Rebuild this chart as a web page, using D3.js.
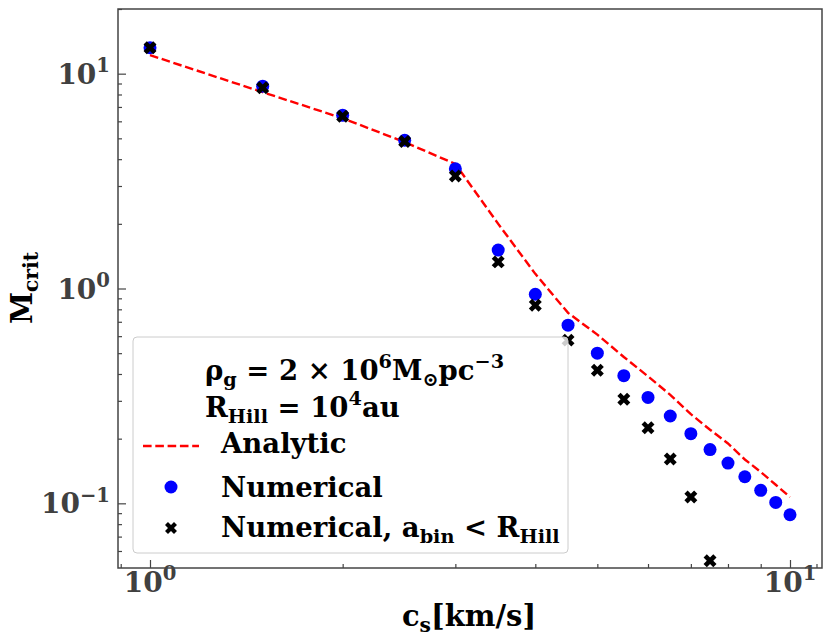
<!DOCTYPE html>
<html lang="en">
  <head>
    <meta charset="UTF-8" />
    <script src="https://d3js.org/d3.v7.min.js"></script>
    <title>M_crit vs c_s</title>
    <style>
      body { margin: 0; background: #fff; }
      text { font-family: "DejaVu Serif", serif; font-weight: bold; }
    </style>
  </head>
  <body>
    <div id="chart-container"></div>

    <script>
      // sound speed c_s [km/s]
      const cs = [1.0, 1.5, 2.0, 2.5, 3.0, 3.5, 4.0, 4.5, 5.0, 5.5, 6.0, 6.5, 7.0, 7.5, 8.0, 8.5, 9.0, 9.5, 10.0];
      // analytic curve (red dashed)
      const analytic = [12.2, 8.2, 6.2, 4.8, 3.8, 2.0, 1.17, 0.77, 0.61, 0.48, 0.39, 0.32, 0.26, 0.22, 0.19, 0.16, 0.14, 0.122, 0.107];
      // numerical (blue circles)
      const numerical = [13.2, 8.75, 6.4, 4.9, 3.61, 1.51, 0.94, 0.675, 0.5, 0.393, 0.311, 0.255, 0.211, 0.178, 0.154, 0.133, 0.115, 0.101, 0.0885];
      // numerical with a_bin < R_Hill (black crosses)
      const csHill = [1.0, 1.5, 2.0, 2.5, 3.0, 3.5, 4.0, 4.5, 5.0, 5.5, 6.0, 6.5, 7.0, 7.5];
      const numericalHill = [13.2, 8.6, 6.33, 4.83, 3.34, 1.33, 0.835, 0.575, 0.416, 0.305, 0.225, 0.161, 0.107, 0.054];

      const xMajor = [1, 10];
      const xMinor = [0.9, 2, 3, 4, 5, 6, 7, 8, 9, 11];
      const yMajor = [0.1, 1, 10];
      const yMinor = [0.06, 0.07, 0.08, 0.09, 0.2, 0.3, 0.4, 0.5, 0.6, 0.7, 0.8, 0.9, 2, 3, 4, 5, 6, 7, 8, 9, 20];

      const W = 831, H = 643;
      const margin = { top: 9, right: 9, bottom: 75, left: 118 };
      const width = W - margin.left - margin.right;
      const height = H - margin.top - margin.bottom;

      const svgRoot = d3.select("#chart-container").append("svg")
        .attr("width", W).attr("height", H);
      const svg = svgRoot.append("g")
        .attr("transform", "translate(" + margin.left + "," + margin.top + ")");

      const x = d3.scaleLog().domain([Math.pow(10, -0.05), Math.pow(10, 1.05)]).range([0, width]);
      const y = d3.scaleLog().domain([0.05, 20]).range([height, 0]);

      // text with sub/superscripts: parts = [[text, mode], ...]
      function rich(sel, parts, size) {
        let cur = 0;
        parts.forEach(([t, m]) => {
          const off = m === "sup" ? -0.42 * size : m === "sub" ? 0.2 * size : 0;
          sel.append("tspan")
            .attr("dy", off - cur)
            .style("font-size", (m ? 0.7 * size : size) + "px")
            .text(t);
          cur = off;
        });
      }

      // ticks (inward)
      const axisColor = "#444";
      function styleAxis(g) {
        g.select(".domain").remove();
        g.selectAll("line").attr("stroke", axisColor).attr("stroke-width", 1.2);
      }
      svg.append("g").attr("transform", "translate(0," + height + ")")
        .call(d3.axisBottom(x).tickValues(xMajor).tickSize(-8).tickFormat(""))
        .call(styleAxis);
      svg.append("g").attr("transform", "translate(0," + height + ")")
        .call(d3.axisBottom(x).tickValues(xMinor).tickSize(-4).tickFormat(""))
        .call(styleAxis);
      svg.append("g")
        .call(d3.axisLeft(y).tickValues(yMajor).tickSize(-8).tickFormat(""))
        .call(styleAxis);
      svg.append("g")
        .call(d3.axisLeft(y).tickValues(yMinor).tickSize(-4).tickFormat(""))
        .call(styleAxis);

      // tick labels
      const tickSize = 28;
      xMajor.forEach((v) => {
        const t = svg.append("text").attr("x", x(v)).attr("y", height + 24)
          .attr("text-anchor", "middle").attr("fill", "#404040");
        rich(t, [["10"], [String(Math.round(Math.log10(v))), "sup"]], tickSize);
      });
      yMajor.forEach((v) => {
        const e = Math.round(Math.log10(v));
        const t = svg.append("text").attr("x", -8).attr("y", y(v) + 10)
          .attr("text-anchor", "end").attr("fill", "#404040");
        rich(t, [["10"], [(e < 0 ? "\u2212" : "") + Math.abs(e), "sup"]], tickSize);
      });

      // analytic line
      const line = d3.line().x((d, i) => x(cs[i])).y((d) => y(d));
      svg.append("path").datum(analytic)
        .attr("fill", "none").attr("stroke", "#ff0000")
        .attr("stroke-width", 2.4).attr("stroke-dasharray", "8.6,3.7")
        .attr("d", line);

      // numerical points
      svg.append("g").selectAll("circle").data(numerical).join("circle")
        .attr("cx", (d, i) => x(cs[i])).attr("cy", (d) => y(d))
        .attr("r", 6.5).attr("fill", "#0000ff");

      const cross = d3.symbol(d3.symbolCross, 105);
      svg.append("g").selectAll("path").data(numericalHill).join("path")
        .attr("d", cross)
        .attr("transform", (d, i) => "translate(" + x(csHill[i]) + "," + y(d) + ") rotate(45)")
        .attr("fill", "#000");

      // frame
      svg.append("rect").attr("width", width).attr("height", height)
        .attr("fill", "none").attr("stroke", axisColor).attr("stroke-width", 1.5);

      // legend
      const lg = svgRoot.append("g");
      lg.append("rect").attr("x", 133).attr("y", 337).attr("width", 435).attr("height", 216)
        .attr("rx", 4).attr("fill", "#fff").attr("fill-opacity", 0.8)
        .attr("stroke", "#ccc").attr("stroke-width", 1);
      const ls = 27.5;
      rich(lg.append("text").attr("x", 205).attr("y", 380),
        [["\u03c1"], ["g", "sub"], [" = 2 \u00d7 10"], ["6", "sup"], ["M"], ["\u2299", "sub"], ["pc"], ["\u22123", "sup"]], ls);
      rich(lg.append("text").attr("x", 205).attr("y", 417),
        [["R"], ["Hill", "sub"], [" = 10"], ["4", "sup"], ["au"]], ls);
      lg.append("line").attr("x1", 143).attr("x2", 199).attr("y1", 446).attr("y2", 446)
        .attr("stroke", "#ff0000").attr("stroke-width", 2.4).attr("stroke-dasharray", "8.6,3.7");
      rich(lg.append("text").attr("x", 221).attr("y", 453), [["Analytic"]], ls);
      lg.append("circle").attr("cx", 171).attr("cy", 487).attr("r", 6.5).attr("fill", "#0000ff");
      rich(lg.append("text").attr("x", 221).attr("y", 497), [["Numerical"]], ls);
      lg.append("path").attr("d", d3.symbol(d3.symbolCross, 90))
        .attr("transform", "translate(171,528) rotate(45)").attr("fill", "#000");
      rich(lg.append("text").attr("x", 221).attr("y", 537),
        [["Numerical, a"], ["bin", "sub"], [" < R"], ["Hill", "sub"]], ls);

      // axis labels
      rich(svgRoot.append("text").attr("x", 469).attr("y", 626).attr("text-anchor", "middle"),
        [["c"], ["s", "sub"], ["[km/s]"]], 29);
      rich(svgRoot.append("text").attr("transform", "translate(32,288) rotate(-90)").attr("text-anchor", "middle"),
        [["M"], ["crit", "sub"]], 29);
    </script>
  </body>
</html>
